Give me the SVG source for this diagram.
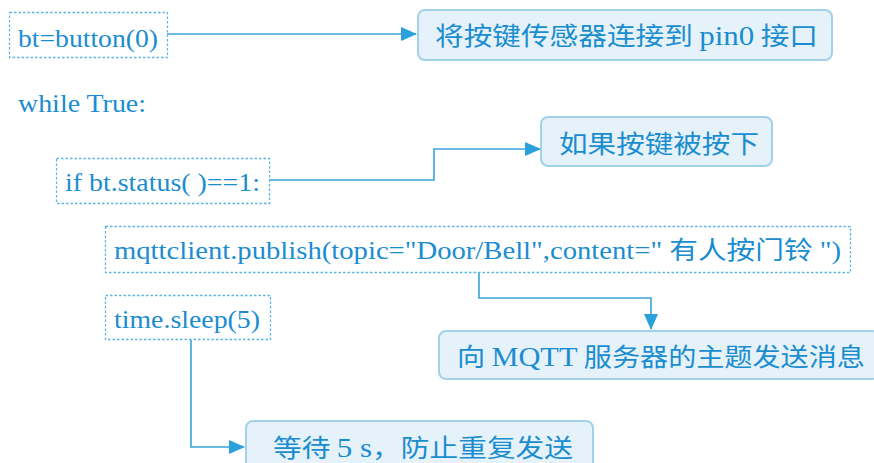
<svg xmlns="http://www.w3.org/2000/svg" width="874" height="463" viewBox="0 0 874 463">
<style>
.code{font-family:"Liberation Serif","Noto Sans CJK SC",serif;font-size:25px;fill:#1a8dd0;}
.cn{font-family:"Noto Sans CJK SC","Liberation Serif",sans-serif;font-size:25px;fill:#1a8dd0;}
.lat{font-family:"Liberation Serif",serif;font-size:27px;}
.dash{fill:none;stroke:#5ab6e4;stroke-width:1.3;stroke-dasharray:2.5 2;}
.box{fill:#e6f2f9;stroke:#a2d1ea;stroke-width:2;}
.conn{fill:none;stroke:#3aa5dc;stroke-width:1.6;}
</style>
<defs>
<marker id="ah" markerUnits="userSpaceOnUse" markerWidth="16" markerHeight="14" refX="15" refY="7" orient="auto">
<path d="M0,0 L16,7 L0,14 Z" fill="#2aa0dc"/>
</marker>
</defs>
<rect width="874" height="463" fill="#ffffff"/>
<g id="connectors">
<path class="conn" d="M167,34 H416" marker-end="url(#ah)"/>
<path class="conn" d="M269,180 H434 V149 H540" marker-end="url(#ah)"/>
<path class="conn" d="M479,272 V298 H651 V329" marker-end="url(#ah)"/>
<path class="conn" d="M191,340 V447 H244" marker-end="url(#ah)"/>
</g>
<g id="code1">
<rect class="dash" x="9.5" y="12.5" width="158" height="45"/>
<text class="code" x="18" y="47" textLength="140" lengthAdjust="spacingAndGlyphs">bt=button(0)</text>
</g>
<g id="note1">
<rect class="box" x="418" y="10" width="414" height="50" rx="7"/>
<text class="cn" x="435" y="45" textLength="383" lengthAdjust="spacingAndGlyphs">将按键传感器连接到 <tspan class="lat">pin0</tspan> 接口</text>
</g>
<g id="code-while">
<text class="code" x="18" y="112" textLength="128" lengthAdjust="spacingAndGlyphs">while True:</text>
</g>
<g id="code2">
<rect class="dash" x="56.5" y="158.5" width="213" height="45"/>
<text class="code" x="65" y="191" textLength="195" lengthAdjust="spacingAndGlyphs">if bt.status( )==1:</text>
</g>
<g id="note2">
<rect class="box" x="541" y="117" width="231" height="49" rx="7"/>
<text class="cn" x="559" y="153" textLength="200" lengthAdjust="spacingAndGlyphs">如果按键被按下</text>
</g>
<g id="code3">
<rect class="dash" x="105.5" y="226.5" width="745" height="46"/>
<text class="code" x="114" y="259" textLength="727" lengthAdjust="spacingAndGlyphs">mqttclient.publish(topic="Door/Bell",content=" 有人按门铃 ")</text>
</g>
<g id="note3">
<rect class="box" x="439" y="331" width="440" height="48" rx="7"/>
<text class="cn" x="457" y="366" textLength="408" lengthAdjust="spacingAndGlyphs">向 <tspan class="lat">MQTT</tspan> 服务器的主题发送消息</text>
</g>
<g id="code4">
<rect class="dash" x="105.5" y="295.5" width="165" height="44"/>
<text class="code" x="114" y="328" textLength="146" lengthAdjust="spacingAndGlyphs">time.sleep(5)</text>
</g>
<g id="note4">
<rect class="box" x="246" y="421" width="347" height="50" rx="7"/>
<text class="cn" x="273" y="457" textLength="300" lengthAdjust="spacingAndGlyphs">等待 <tspan class="lat">5 s</tspan>，防止重复发送</text>
</g>
</svg>
